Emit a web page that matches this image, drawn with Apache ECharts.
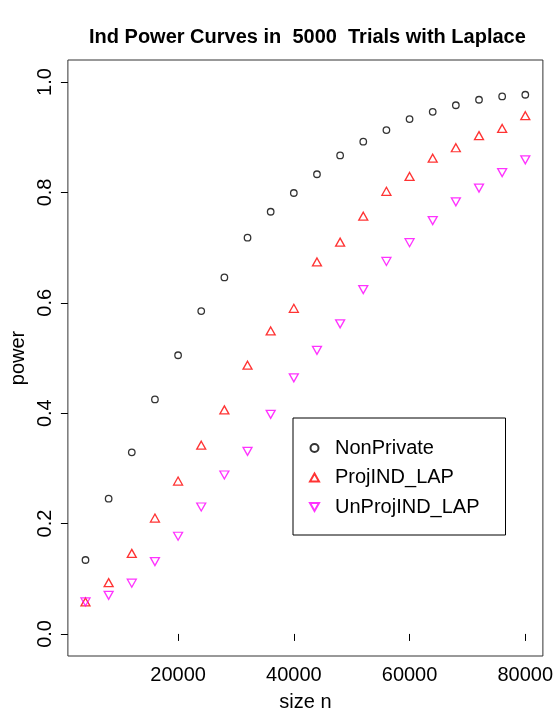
<!DOCTYPE html>
<html>
<head>
<meta charset="utf-8">
<script src="https://cdn.jsdelivr.net/npm/echarts@6/dist/echarts.min.js"></script>
<style>
  html, body { margin: 0; padding: 0; background: #fff; }
  #chart { width: 556px; height: 717px; }
</style>
</head>
<body>
<div id="chart"></div>
<script>
'use strict';

// sample sizes n
const sizes = [4000, 8000, 12000, 16000, 20000, 24000, 28000, 32000, 36000, 40000,
               44000, 48000, 52000, 56000, 60000, 64000, 68000, 72000, 76000, 80000];

// power
const nonPrivate = [0.134, 0.245, 0.329, 0.425, 0.505, 0.585, 0.646, 0.718, 0.765, 0.799,
                    0.833, 0.867, 0.892, 0.913, 0.933, 0.946, 0.958, 0.968, 0.974, 0.977];
const projLap    = [0.058, 0.093, 0.146, 0.210, 0.277, 0.342, 0.406, 0.487, 0.549, 0.590,
                    0.674, 0.710, 0.757, 0.802, 0.829, 0.862, 0.881, 0.903, 0.916, 0.939];
const unprojLap  = [0.058, 0.070, 0.092, 0.131, 0.177, 0.230, 0.288, 0.331, 0.398, 0.464,
                    0.514, 0.562, 0.624, 0.675, 0.709, 0.749, 0.783, 0.808, 0.836, 0.859];

const xTicks = [20000, 40000, 60000, 80000];
const yTicks = [0, 0.2, 0.4, 0.6, 0.8, 1.0];

const FONT = '"Liberation Sans", Arial, Helvetica, sans-serif';
const DOWN_TRI = 'path://M0,0 L10,0 L5,8.66 Z';

function pairs(ys) {
    return sizes.map((x, i) => [x, ys[i]]);
}

let chart = echarts.init(document.getElementById('chart'), null, { renderer: 'canvas' });

chart.setOption({
    backgroundColor: '#fff',
    animation: false,
    textStyle: { fontFamily: FONT, color: '#000' },
    title: {
        text: 'Ind Power Curves in  5000  Trials with Laplace',
        left: 84,
        top: 22,
        textStyle: { fontFamily: FONT, fontSize: 20, fontWeight: 'bold', color: '#000' }
    },
    grid: {
        left: 65, right: 11, top: 60, bottom: 52,
        show: true, borderColor: '#333', borderWidth: 1, backgroundColor: 'transparent'
    },
    legend: {
        orient: 'vertical',
        left: 293,
        top: 418,
        padding: [20, 26, 18, 16],
        itemWidth: 9,
        itemHeight: 8,
        itemGap: 9.5,
        borderColor: '#000',
        borderWidth: 1,
        textStyle: { fontFamily: FONT, fontSize: 20, color: '#000', lineHeight: 20, padding: [0, 0, 0, 11] },
        data: [
            { name: 'NonPrivate', icon: 'circle' },
            { name: 'ProjIND_LAP', icon: 'triangle' },
            { name: 'UnProjIND_LAP', icon: DOWN_TRI }
        ]
    },
    xAxis: {
        type: 'value',
        min: 960,
        max: 83040,
        name: 'size n',
        nameLocation: 'middle',
        nameGap: 36,
        nameTextStyle: { fontFamily: FONT, fontSize: 20, color: '#000' },
        splitLine: { show: false },
        axisLine: { show: false },
        axisTick: { show: true, length: 7, lineStyle: { color: '#000' }, customValues: xTicks },
        axisLabel: {
            fontFamily: FONT, fontSize: 20, color: '#000', margin: 9,
            customValues: xTicks,
            formatter: v => String(v)
        }
    },
    yAxis: {
        type: 'value',
        min: -0.04,
        max: 1.04,
        name: 'power',
        nameLocation: 'middle',
        nameGap: 37,
        nameRotate: 90,
        nameTextStyle: { fontFamily: FONT, fontSize: 20, color: '#000' },
        splitLine: { show: false },
        axisLine: { show: false },
        axisTick: { show: true, length: 7, lineStyle: { color: '#000' }, customValues: yTicks },
        axisLabel: {
            fontFamily: FONT, fontSize: 20, color: '#000', margin: 12, rotate: 90,
            customValues: yTicks,
            formatter: v => v.toFixed(1)
        }
    },
    series: [
        {
            name: 'NonPrivate',
            type: 'scatter',
            symbol: 'circle',
            symbolSize: 6.5,
            itemStyle: { color: 'transparent', borderColor: '#000', borderWidth: 1.3 },
            data: pairs(nonPrivate)
        },
        {
            name: 'ProjIND_LAP',
            type: 'scatter',
            symbol: 'triangle',
            symbolSize: [9, 8],
            itemStyle: { color: 'transparent', borderColor: '#ff0000', borderWidth: 1.3 },
            data: pairs(projLap)
        },
        {
            name: 'UnProjIND_LAP',
            type: 'scatter',
            symbol: DOWN_TRI,
            symbolSize: [9, 8],
            itemStyle: { color: 'transparent', borderColor: '#ff00ff', borderWidth: 1.3 },
            data: pairs(unprojLap)
        }
    ]
});
</script>
</body>
</html>
